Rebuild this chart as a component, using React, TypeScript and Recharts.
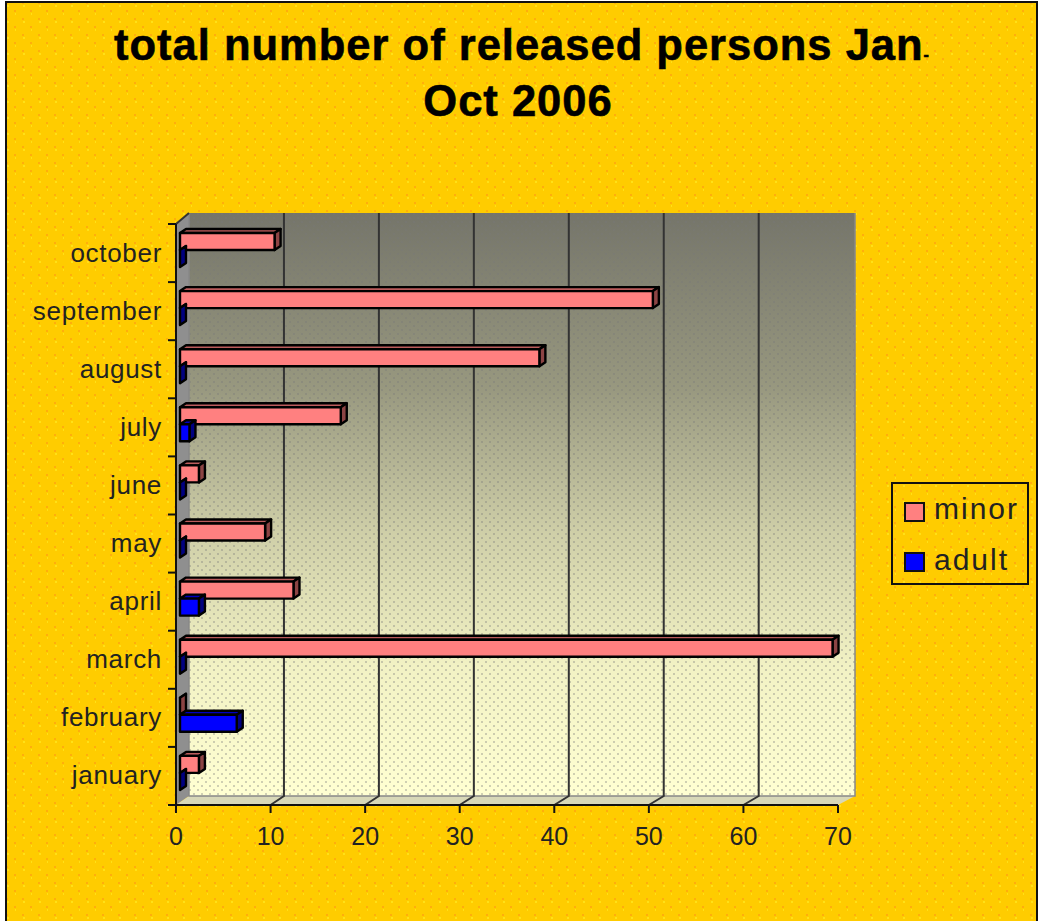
import { BarChart, Bar, XAxis, YAxis, CartesianGrid, Legend } from 'recharts'

const MONTHS = ['october', 'september', 'august', 'july', 'june', 'may', 'april', 'march', 'february', 'january']
const MINOR = [10, 50, 38, 17, 2, 9, 12, 69, 0, 2]
const ADULT = [0, 0, 0, 1, 0, 0, 2, 0, 6, 0]
const X_TICKS = [0, 10, 20, 30, 40, 50, 60, 70]

const data = MONTHS.map((month, i) => ({ month, minor: MINOR[i], adult: ADULT[i] }))

const FONT = '"Liberation Sans", Arial, sans-serif'
const BAND = 58.1
const DEPTH_X = 6
const DEPTH_Y = 4

function box3d(top: string, side: string) {
  return (p: any) => {
    // bars start one step in from the axis plane
    const x = p.x + 4
    const y = p.y - 3
    const w = p.width
    const h = p.height
    return (
      <g stroke="#000" strokeWidth={2.4} strokeLinejoin="round">
        <polygon
          points={`${x},${y} ${x + DEPTH_X},${y - DEPTH_Y} ${x + w + DEPTH_X},${y - DEPTH_Y} ${x + w},${y}`}
          fill={top}
        />
        <polygon
          points={`${x + w},${y} ${x + w + DEPTH_X},${y - DEPTH_Y} ${x + w + DEPTH_X},${y + h - DEPTH_Y} ${x + w},${y + h}`}
          fill={side}
        />
        <rect x={x} y={y} width={w} height={h} fill={p.fill} />
      </g>
    )
  }
}

function MonthTick({ x, y, payload, index }: any) {
  const top = y - BAND / 2
  return (
    <g>
      <line x1={168} x2={176} y1={top} y2={top} stroke="#111" strokeWidth={2} />
      {index === MONTHS.length - 1 && (
        <line x1={168} x2={176} y1={top + BAND} y2={top + BAND} stroke="#111" strokeWidth={2} />
      )}
      <text
        x={162}
        y={y + 8.5}
        textAnchor="end"
        fontFamily={FONT}
        fontSize={26}
        letterSpacing={0.7}
        fill="#222"
      >
        {payload.value}
      </text>
    </g>
  )
}

// gridlines sit on the back wall and run down across the floor to the axis tick
function BackGridLine(p: any) {
  const { x1, y2 } = p
  if (x1 <= 176 || x1 >= 838) return <g key={p.key} />
  const back = x1 + 13 + (x1 - 176) * 0.004
  return (
    <polyline
      key={p.key}
      points={`${x1},${y2} ${back},796 ${back},213`}
      fill="none"
      stroke="#333"
      strokeWidth={2}
    />
  )
}

function LegendBox({ payload }: any) {
  return (
    <div style={{ width: 138, height: 103, boxSizing: 'border-box', border: '2px solid #111', position: 'relative' }}>
      {(payload ?? []).map((item: any, i: number) => (
        <div key={item.value}>
          <div
            style={{
              position: 'absolute',
              left: 11,
              top: 18 + i * 50,
              width: 21,
              height: 20,
              boxSizing: 'border-box',
              background: item.color,
              border: '2px solid #111',
            }}
          />
          <div
            style={{
              position: 'absolute',
              left: 41,
              top: 7 + i * 51,
              fontFamily: FONT,
              fontSize: 30,
              letterSpacing: 2,
              lineHeight: '36px',
              color: '#222',
            }}
          >
            {item.value}
          </div>
        </div>
      ))}
    </div>
  )
}

function Backdrop() {
  return (
    <svg width={1038} height={921} style={{ position: 'absolute', left: 0, top: 0 }}>
      <defs>
        <pattern id="pageDots" width={16} height={16} patternUnits="userSpaceOnUse">
          <rect x={7} y={5} width={2} height={2} fill="#ffe018" />
          <rect x={15} y={13} width={2} height={2} fill="#ffe018" />
          <rect x={14} y={10} width={2} height={2} fill="#ffae0c" />
          <rect x={6} y={2} width={2} height={2} fill="#ffae0c" />
        </pattern>
        <linearGradient id="wallFade" x1="0" y1="0" x2="0" y2="1">
          <stop offset="0" stopColor="#75756a" />
          <stop offset="0.3" stopColor="#98987f" />
          <stop offset="0.55" stopColor="#cfcfa8" />
          <stop offset="0.78" stopColor="#f2f2c4" />
          <stop offset="1" stopColor="#ffffd2" />
        </linearGradient>
        <pattern id="wallDots" width={8} height={8} patternUnits="userSpaceOnUse">
          <rect x={1} y={1} width={2} height={2} fill="#777" opacity={0.35} />
          <rect x={5} y={5} width={2} height={2} fill="#777" opacity={0.35} />
        </pattern>
      </defs>
      <rect x={0} y={0} width={1038} height={921} fill="#fff" />
      <rect x={6} y={2} width={1031} height={925} fill="#ffcc00" stroke="#111" strokeWidth={2} />
      <rect x={7} y={3} width={1029} height={918} fill="url(#pageDots)" />

      <text
        x={522}
        y={60}
        textAnchor="middle"
        fontFamily={FONT}
        fontWeight="bold"
        fontSize={43.5}
        letterSpacing={1}
        fill="#000"
        stroke="#000"
        strokeWidth={0.6}
      >
        total number of released persons Jan<tspan fontSize={16}>-</tspan>
      </text>
      <text
        x={518}
        y={116}
        textAnchor="middle"
        fontFamily={FONT}
        fontWeight="bold"
        fontSize={43.5}
        letterSpacing={1}
        fill="#000"
        stroke="#000"
        strokeWidth={0.6}
      >
        Oct 2006
      </text>

      <polygon points="176,224 189,213 189,796 176,805" fill="#8f8f8f" />
      <polygon points="176,805 189,796 855,796 838,805" fill="#d8d8b8" />
      <rect x={189} y={213} width={666} height={583} fill="url(#wallFade)" />
      <rect x={189} y={213} width={666} height={583} fill="url(#wallDots)" />
      <polyline points="189,213 189,796 855,796 855,213" fill="none" stroke="#888" strokeWidth={1.5} />
      <line x1={176} y1={224} x2={189} y2={213} stroke="#333" strokeWidth={2} />
    </svg>
  )
}

export default function App() {
  return (
    <div style={{ position: 'absolute', left: 0, top: 0, width: 1038, height: 921, overflow: 'hidden' }}>
      <Backdrop />
      <div style={{ position: 'absolute', left: 0, top: 0 }}>
        <BarChart
          width={1038}
          height={921}
          data={data}
          layout="vertical"
          barSize={17}
          barGap={0}
          margin={{ top: 224, right: 200, bottom: 0, left: 0 }}
        >
          <CartesianGrid horizontal={false} vertical={BackGridLine} />
          <XAxis
            type="number"
            domain={[0, 70]}
            ticks={X_TICKS}
            interval={0}
            height={116}
            axisLine={{ stroke: '#111', strokeWidth: 2 }}
            tickLine={{ stroke: '#111', strokeWidth: 2 }}
            tickSize={8}
            tick={{ fontFamily: FONT, fontSize: 25, fill: '#222' }}
            tickMargin={14}
          />
          <YAxis
            type="category"
            dataKey="month"
            width={176}
            interval={0}
            tickLine={false}
            axisLine={{ stroke: '#111', strokeWidth: 2 }}
            tick={MonthTick}
          />
          <Legend
            layout="vertical"
            align="center"
            verticalAlign="middle"
            itemSorter={null}
            wrapperStyle={{ left: 891, top: 482, width: 138, height: 103 }}
            content={LegendBox}
          />
          <Bar
            dataKey="minor"
            name="minor"
            fill="#ff8080"
            isAnimationActive={false}
            shape={box3d('#bc5c5c', '#8c4444')}
          />
          <Bar
            dataKey="adult"
            name="adult"
            fill="#0000ff"
            isAnimationActive={false}
            shape={box3d('#0000c0', '#000080')}
          />
        </BarChart>
      </div>
    </div>
  )
}
